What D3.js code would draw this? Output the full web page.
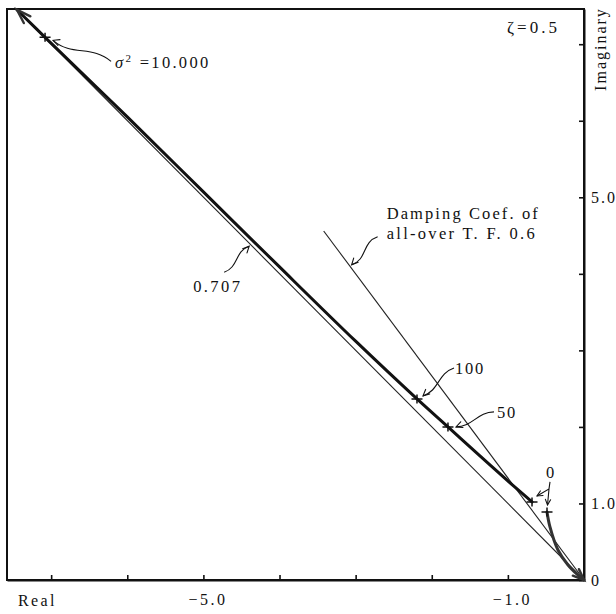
<!DOCTYPE html>
<html>
<head>
<meta charset="utf-8">
<script src="https://cdn.jsdelivr.net/npm/d3@7"></script>
<style>
  html, body { margin: 0; padding: 0; background: #fff; }
  svg { display: block; }
  text { font-family: "Liberation Serif", "DejaVu Serif", serif; fill: #111; }
</style>
</head>
<body>
<svg id="chart" width="616" height="614"></svg>
<script>
// ---------------- data ----------------
const xTicks = [-7, -6, -5, -4, -3, -2, -1];
const xTickLabels = { "-5": "\u22125.0", "-1": "\u22121.0" };
const yTicks = [0, 1, 2, 3, 4, 5, 6, 7];
const yTickLabels = { "0": "0", "1": "1.0", "5": "5.0" };

// root locus, upper branch (from gain 0 out to large gain)
const upperRe = [-0.683, -0.972, -1.40, -1.787, -2.194, -3.00, -4.00, -5.00, -6.00, -7.08, -7.45];
const upperIm = [ 1.020,  1.270,  1.65,  2.000,  2.366,  3.12,  4.09,  5.07,  6.05,  7.09,  7.45];
// root locus, lower branch (from gain 0 into origin)
const lowerRe = [-0.486, -0.447, -0.342, -0.210, -0.079, 0];
const lowerIm = [ 0.889,  0.693,  0.392,  0.196,  0.065, 0];

// gain markers
const markerNames = ["0a", "0b", "50", "100", "10000"];
const markerRe = [-0.683, -0.486, -1.787, -2.194, -7.08];
const markerIm = [ 1.020,  0.889,  2.000,  2.366,  7.09];

// constant damping lines
const dampingRatios = [0.707, 0.6];
const dampingRadius = [10.53, 5.70];

// ---------------- layout ----------------
const svg = d3.select("#chart");
const x = d3.scaleLinear().domain([-7.58, 0]).range([7, 584]);
const y = d3.scaleLinear().domain([0, 7.46]).range([580, 9]);
const ink = "#111";

// frame
svg.append("rect")
  .attr("x", x(-7.58)).attr("y", y(7.46))
  .attr("width", x(0) - x(-7.58)).attr("height", y(0) - y(7.46))
  .attr("fill", "none").attr("stroke", ink).attr("stroke-width", 2);

// bottom axis
const xAxis = d3.axisBottom(x).tickValues(xTicks)
  .tickSizeInner(-5).tickSizeOuter(0).tickPadding(14)
  .tickFormat(d => xTickLabels[String(d)] || "");
const gx = svg.append("g").attr("transform", `translate(0,${y(0)})`).call(xAxis);
gx.select(".domain").attr("stroke", ink).attr("stroke-width", 2);
gx.selectAll(".tick line").attr("stroke", ink).attr("stroke-width", 1.6);
gx.selectAll(".tick text").attr("font-size", 16).attr("letter-spacing", 2.5)
  .attr("font-family", "Liberation Serif").attr("fill", ink).attr("dx", 4);

// right axis
const yAxis = d3.axisRight(y).tickValues(yTicks)
  .tickSizeInner(-5).tickSizeOuter(0).tickPadding(7)
  .tickFormat(d => yTickLabels[String(d)] || "");
const gy = svg.append("g").attr("transform", `translate(${x(0)},0)`).call(yAxis);
gy.select(".domain").attr("stroke", ink).attr("stroke-width", 2);
gy.selectAll(".tick line").attr("stroke", ink).attr("stroke-width", 1.6);
gy.selectAll(".tick text").attr("font-size", 16).attr("letter-spacing", 2)
  .attr("font-family", "Liberation Serif").attr("fill", ink);

// axis titles
svg.append("text").attr("x", 18).attr("y", 606).attr("font-size", 16)
  .attr("letter-spacing", 2.4).text("Real");
svg.append("text").attr("transform", "translate(606,49) rotate(-90)")
  .attr("text-anchor", "middle").attr("font-size", 16).attr("letter-spacing", 2)
  .text("Imaginary");
svg.append("text").attr("x", 507).attr("y", 33).attr("font-size", 17)
  .attr("letter-spacing", 3).text("\u03B6=0.5");

// constant damping lines
dampingRatios.forEach((z, i) => {
  const r = dampingRadius[i];
  svg.append("line")
    .attr("x1", x(0)).attr("y1", y(0))
    .attr("x2", x(-z * r)).attr("y2", y(r * Math.sqrt(1 - z * z)))
    .attr("stroke", "#222").attr("stroke-width", 1.1);
});

// locus branches
const lineGen = d3.line().x(d => x(d[0])).y(d => y(d[1])).curve(d3.curveCatmullRom.alpha(0.5));
const upper = upperRe.map((v, i) => [v, upperIm[i]]);
const lower = lowerRe.map((v, i) => [v, lowerIm[i]]);
svg.append("path").attr("d", lineGen(upper)).attr("fill", "none")
  .attr("stroke", ink).attr("stroke-width", 3).attr("stroke-linecap", "round");
svg.append("path").attr("d", lineGen(lower)).attr("fill", "none")
  .attr("stroke", "#333").attr("stroke-width", 3).attr("stroke-linecap", "round");

// arrowhead helper (open V)
function arrowHead(tip, from, len, spread, width, color) {
  const ang = Math.atan2(tip[1] - from[1], tip[0] - from[0]);
  const a1 = ang + Math.PI - spread, a2 = ang + Math.PI + spread;
  const p1 = [tip[0] + len * Math.cos(a1), tip[1] + len * Math.sin(a1)];
  const p2 = [tip[0] + len * Math.cos(a2), tip[1] + len * Math.sin(a2)];
  svg.append("path").attr("d", `M${p1}L${tip}L${p2}`)
    .attr("fill", "none").attr("stroke", color || ink)
    .attr("stroke-width", width || 1.2).attr("stroke-linejoin", "miter")
    .attr("stroke-linecap", "round");
}
const pt = (re, im) => [x(re), y(im)];
const nU = upper.length;
arrowHead(pt(...upper[nU - 1]), pt(...upper[nU - 3]), 15, 0.32, 2.4, "#333");
const nL = lower.length;
arrowHead(pt(...lower[nL - 1]), pt(...lower[nL - 3]), 12, 0.38, 2.4, "#333");

// gain markers (+)
markerRe.forEach((re, i) => {
  const [cx, cy] = pt(re, markerIm[i]);
  svg.append("path").attr("d", `M${cx - 5.5},${cy}H${cx + 5.5}M${cx},${cy - 4.5}V${cy + 4.5}`)
    .attr("stroke", ink).attr("stroke-width", 1.5);
});

// squiggly leader lines
function squiggle(p0, p1, amp) {
  const dx = p1[0] - p0[0], dy = p1[1] - p0[1];
  const L = Math.hypot(dx, dy);
  const nx = -dy / L, ny = dx / L;
  const c1 = [p0[0] + dx * 0.38 + nx * amp, p0[1] + dy * 0.38 + ny * amp];
  const c2 = [p0[0] + dx * 0.62 - nx * amp, p0[1] + dy * 0.62 - ny * amp];
  svg.append("path").attr("d", `M${p0}C${c1} ${c2} ${p1}`)
    .attr("fill", "none").attr("stroke", ink).attr("stroke-width", 1.1);
  arrowHead(p1, [p0[0] + dx * 0.8, p0[1] + dy * 0.8], 7, 0.45, 1.1);
}

const mk = name => pt(markerRe[markerNames.indexOf(name)], markerIm[markerNames.indexOf(name)]);

// sigma^2 = 10.000
{
  const m = mk("10000");
  squiggle([m[0] + 66, m[1] + 24], [m[0] + 8, m[1] + 3], 9);
  const t = svg.append("text").attr("x", m[0] + 70).attr("y", m[1] + 31)
    .attr("font-size", 16.5).attr("letter-spacing", 2.3);
  t.append("tspan").attr("font-style", "italic").text("\u03C3");
  t.append("tspan").attr("font-size", 11).attr("dy", -6).text("2");
  t.append("tspan").attr("dy", 6).text(" =10.000");
}
// 0.707
{
  const z = dampingRatios[0];
  const r = 6.24;
  const tip = pt(-z * r, r * Math.sqrt(1 - z * z));
  squiggle([tip[0] - 24, tip[1] + 30], [tip[0] + 1, tip[1] + 4], 7);
  svg.append("text").attr("x", tip[0] - 55).attr("y", tip[1] + 50)
    .attr("font-size", 16.5).attr("letter-spacing", 2.4).text("0.707");
}
// damping 0.6 label
{
  const z = dampingRatios[1];
  const r = 5.0;
  const tip = pt(-z * r, r * Math.sqrt(1 - z * z));
  squiggle([tip[0] + 22, tip[1] - 37], [tip[0] - 4, tip[1] - 9], 8);
  svg.append("text").attr("x", tip[0] + 31).attr("y", tip[1] - 55)
    .attr("font-size", 16.5).attr("letter-spacing", 2.1).text("Damping Coef. of");
  svg.append("text").attr("x", tip[0] + 31).attr("y", tip[1] - 35)
    .attr("font-size", 16.5).attr("letter-spacing", 2.3).text("all-over T. F. 0.6");
}
// 100
{
  const m = mk("100");
  squiggle([m[0] + 37, m[1] - 31], [m[0] + 6, m[1] - 3], 7);
  svg.append("text").attr("x", m[0] + 38).attr("y", m[1] - 25)
    .attr("font-size", 16.5).attr("letter-spacing", 1.8).text("100");
}
// 50
{
  const m = mk("50");
  squiggle([m[0] + 46, m[1] - 15], [m[0] + 8, m[1]], 6);
  svg.append("text").attr("x", m[0] + 49).attr("y", m[1] - 9)
    .attr("font-size", 16.5).attr("letter-spacing", 1.8).text("50");
}
// 0 (two crosses)
{
  const a = mk("0a"), b = mk("0b");
  const lx = b[0] + 3, ly = a[1] - 24;
  svg.append("text").attr("x", lx).attr("y", ly).attr("text-anchor", "middle")
    .attr("font-size", 16.5).text("0");
  const j = [lx - 1, ly + 11];
  const tipA = [a[0] + 5, a[1] - 6], tipB = [b[0] + 0.5, b[1] - 7];
  svg.append("path").attr("d", `M${lx},${ly + 4}L${j}L${tipA}M${j}L${tipB}`)
    .attr("fill", "none").attr("stroke", ink).attr("stroke-width", 1.1);
  arrowHead(tipA, j, 6, 0.45, 1.1);
  arrowHead(tipB, j, 6, 0.45, 1.1);
}
</script>
</body>
</html>
